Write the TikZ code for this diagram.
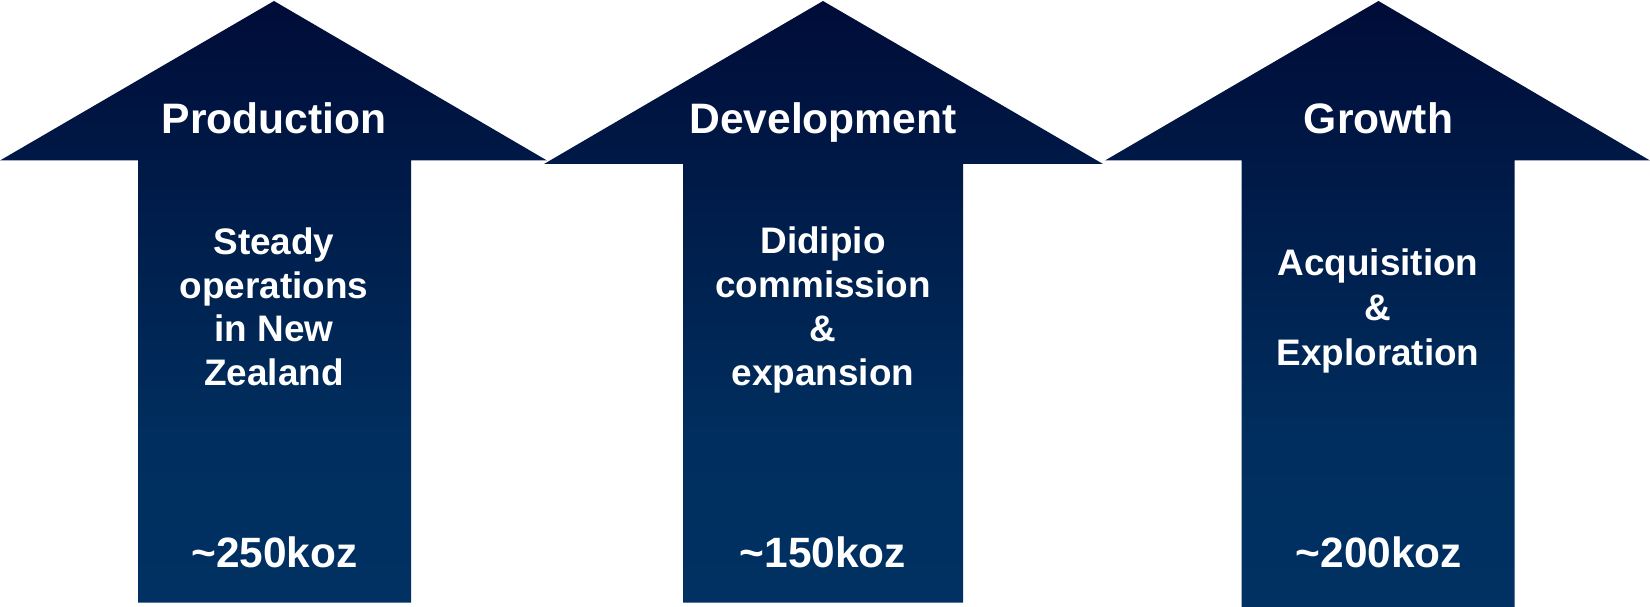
\documentclass[tikz,border=0pt]{standalone}
\usepackage{fontspec}
\setmainfont{Liberation Sans}
\definecolor{navytop}{RGB}{0,12,56}
\definecolor{navymid}{RGB}{0,47,95}
\definecolor{navybot}{RGB}{0,49,98}
% vertical fade used for every arrow: dark at the tip, lighter navy low in the shaft
\pgfdeclareverticalshading{arrowfade}{100bp}{color(0bp)=(navybot); color(25bp)=(navybot); color(38bp)=(navymid); color(75bp)=(navytop); color(100bp)=(navytop)}
\begin{document}
\begin{tikzpicture}[x=1pt,y=-1pt,
  arrowbody/.style={shading=arrowfade, draw=none},
  txt/.style={text=white, anchor=base, inner sep=0pt},
  title/.style={txt, font=\fontsize{42.6}{50}\selectfont\bfseries},
  body/.style={txt, font=\fontsize{36.9}{44}\selectfont\bfseries},
  amount/.style={txt, font=\fontsize{42.4}{48}\selectfont\bfseries}]
\useasboundingbox (0,0) rectangle (1650,607);

% arrow outlines
\shade[arrowbody] (274,1) -- (547,160.5) -- (411,160.5) -- (411,602.5)
  -- (138,602.5) -- (138,160.5) -- (0,160.5) -- cycle;
\shade[arrowbody] (1378.5,1) -- (1650,160.5) -- (1514.5,160.5) -- (1514.5,607)
  -- (1241.5,607) -- (1241.5,160.5) -- (1105,160.5) -- cycle;
\shade[arrowbody] (823,1) -- (1103,164) -- (963,164) -- (963,602.5)
  -- (683,602.5) -- (683,164) -- (544,164) -- cycle;

% Production
\node[title] (t1) at (274,133.3) {Production};
\node[body] (b11) at (274,254.3) {Steady};
\node[body] (b12) at (274,298) {operations};
\node[body] (b13) at (274,341.7) {in New};
\node[body] (b14) at (274,385.7) {Zealand};
\node[amount] (m1) at (274.5,567.5) {\textasciitilde250koz};

% Development
\node[title] (t2) at (823,133.3) {Development};
\node[body] (b21) at (823,253.7) {Didipio};
\node[body] (b22) at (823,297.7) {commission};
\node[body] (b23) at (823,341.7) {\&};
\node[body] (b24) at (823,385.7) {expansion};
\node[amount] (m2) at (823,567.5) {\textasciitilde150koz};

% Growth
\node[title] (t3) at (1378.5,133.3) {Growth};
\node[body] (b31) at (1378,275.7) {Acquisition};
\node[body] (b32) at (1378,320.5) {\&};
\node[body] (b33) at (1378,365) {Exploration};
\node[amount] (m3) at (1379,567.5) {\textasciitilde200koz};
\end{tikzpicture}
\end{document}
